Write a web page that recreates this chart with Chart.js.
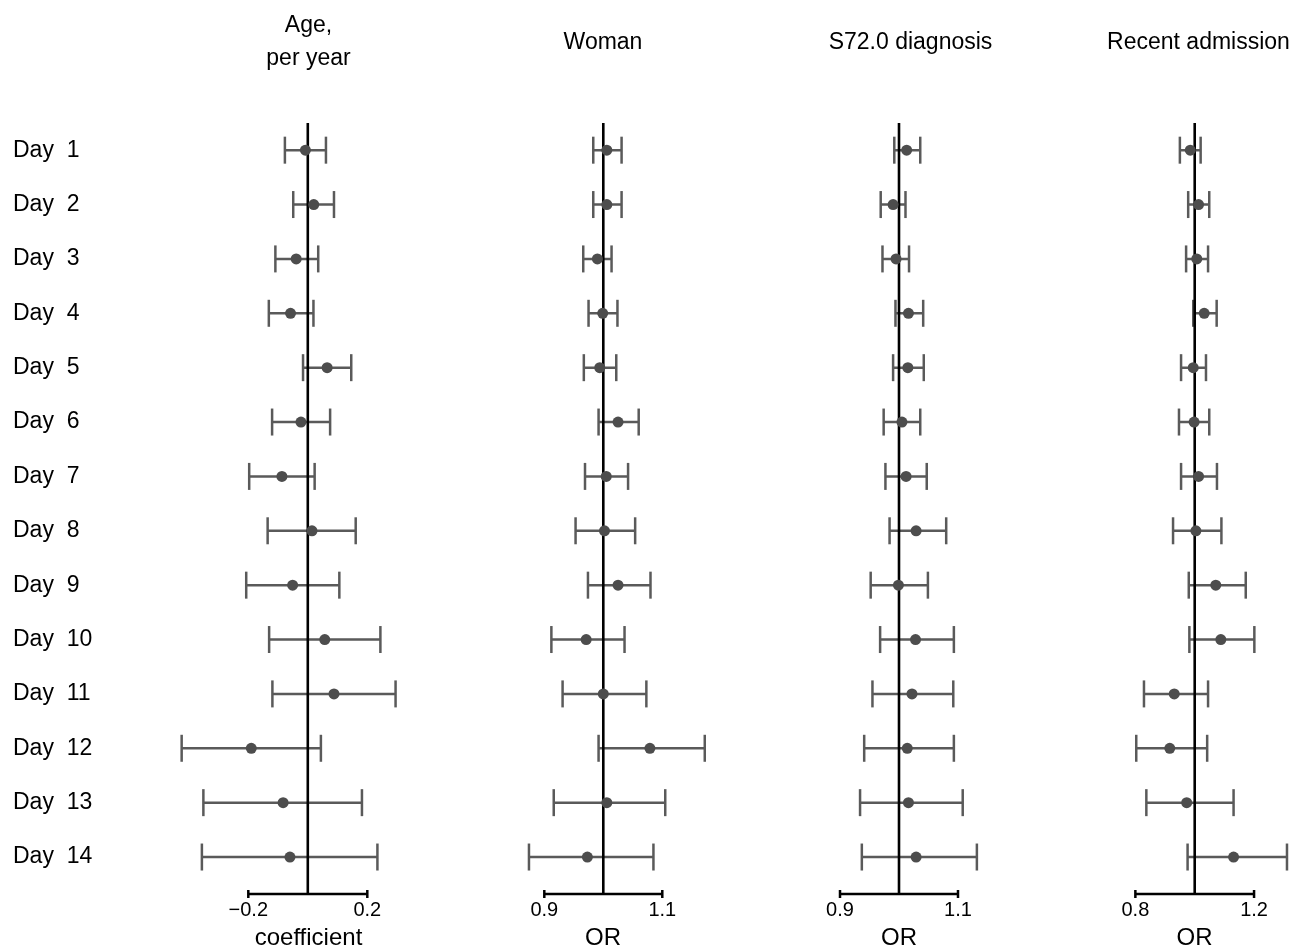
<!DOCTYPE html>
<html lang="en">

<head>
  <meta charset="UTF-8">
  <meta name="viewport" content="width=device-width, initial-scale=1.0">
  <script src="https://cdn.jsdelivr.net/npm/chart.js@4.4.1/dist/chart.umd.min.js"></script>
  <title>Forest plot per day</title>
  <style>
    body { margin: 0; background: #fff; }
    #wrap { position: relative; width: 1307px; height: 950px; }
    #wrap canvas { position: absolute; top: 0; }
  </style>
</head>

<body>
  <div id="wrap">
    <canvas id="c0"></canvas>
    <canvas id="c1"></canvas>
    <canvas id="c2"></canvas>
    <canvas id="c3"></canvas>
  </div>

  <script>
    // rows
    const days = ['Day  1', 'Day  2', 'Day  3', 'Day  4', 'Day  5', 'Day  6', 'Day  7',
      'Day  8', 'Day  9', 'Day  10', 'Day  11', 'Day  12', 'Day  13', 'Day  14'];

    const panelTitles = [['Age,', 'per year'], 'Woman', 'S72.0 diagnosis', 'Recent admission'];
    const axisTitles = ['coefficient', 'OR', 'OR', 'OR'];
    const refValues = [0, 1, 1, 1];
    const tickValues = [[-0.2, 0.2], [0.9, 1.1], [0.9, 1.1], [0.8, 1.2]];

    // Age, per year (coefficient)
    const ageEst = [-0.008, 0.020, -0.039, -0.058, 0.065, -0.023, -0.087, 0.014, -0.051, 0.057, 0.088, -0.190, -0.083, -0.060];
    const ageLo = [-0.077, -0.049, -0.109, -0.131, -0.016, -0.120, -0.197, -0.135, -0.207, -0.130, -0.119, -0.424, -0.351, -0.356];
    const ageHi = [0.061, 0.088, 0.035, 0.019, 0.146, 0.075, 0.023, 0.161, 0.106, 0.244, 0.295, 0.044, 0.182, 0.234];

    // Woman (OR)
    const womanEst = [1.006, 1.006, 0.990, 0.999, 0.994, 1.025, 1.005, 1.002, 1.025, 0.971, 1.000, 1.079, 1.006, 0.973];
    const womanLo = [0.983, 0.983, 0.966, 0.975, 0.967, 0.992, 0.969, 0.953, 0.974, 0.912, 0.931, 0.992, 0.916, 0.874];
    const womanHi = [1.031, 1.031, 1.014, 1.024, 1.022, 1.060, 1.042, 1.054, 1.080, 1.036, 1.073, 1.172, 1.105, 1.085];

    // S72.0 diagnosis (OR)
    const s720Est = [1.013, 0.990, 0.995, 1.016, 1.015, 1.005, 1.012, 1.029, 0.999, 1.028, 1.022, 1.014, 1.016, 1.029];
    const s720Lo = [0.992, 0.969, 0.972, 0.994, 0.990, 0.974, 0.977, 0.984, 0.952, 0.968, 0.955, 0.941, 0.934, 0.937];
    const s720Hi = [1.036, 1.011, 1.017, 1.041, 1.042, 1.036, 1.047, 1.080, 1.049, 1.093, 1.092, 1.093, 1.108, 1.132];

    // Recent admission (OR)
    const recentEst = [0.985, 1.013, 1.007, 1.032, 0.995, 0.998, 1.013, 1.004, 1.071, 1.088, 0.931, 0.916, 0.973, 1.131];
    const recentLo = [0.950, 0.978, 0.971, 0.995, 0.954, 0.947, 0.954, 0.927, 0.980, 0.982, 0.829, 0.803, 0.837, 0.976];
    const recentHi = [1.020, 1.049, 1.045, 1.074, 1.038, 1.049, 1.075, 1.090, 1.172, 1.201, 1.045, 1.042, 1.131, 1.311];

    const series = [
      { est: ageEst, lo: ageLo, hi: ageHi },
      { est: womanEst, lo: womanLo, hi: womanHi },
      { est: s720Est, lo: s720Lo, hi: s720Hi },
      { est: recentEst, lo: recentLo, hi: recentHi }
    ];

    // where each panel sits on the page
    const panels = [
      { left: 0, width: 444, padLeft: 13, yPos: 'left', yWidth: 160, min: -0.4531, max: 0.4578 },
      { left: 482, width: 242, padLeft: 0, yPos: null, yWidth: 0, min: 0.7944, max: 1.2046 },
      { left: 790, width: 241, padLeft: 0, yPos: 'right', yWidth: 23, min: 0.81525, max: 1.18475 },
      { left: 1097, width: 203, padLeft: 0, yPos: 'right', yWidth: 8, min: 0.6707, max: 1.3279 }
    ];

    const yMin = 0.5;
    const yMax = 14.68;
    const barColor = '#5a5a5a';
    const dotColor = '#4d4d4d';

    Chart.defaults.font.family = "'Liberation Sans', Arial, Helvetica, sans-serif";
    Chart.defaults.color = '#000';

    function fmtTick(v) {
      return v < 0 ? '\u2212' + Math.abs(v) : String(v);
    }

    panels.forEach((p, k) => {
      const s = series[k];
      const canvas = document.getElementById('c' + k);
      canvas.width = p.width;
      canvas.height = 950;
      canvas.style.left = p.left + 'px';

      const ciData = [];
      s.lo.forEach((l, i) => {
        ciData.push({ x: l, y: i + 1 }, { x: s.hi[i], y: i + 1 }, { x: s.hi[i], y: null });
      });
      const dotData = s.est.map((v, i) => ({ x: v, y: i + 1 }));
      const ticks = tickValues[k];
      const isMulti = Array.isArray(panelTitles[k]);

      new Chart(canvas, {
        type: 'scatter',
        data: {
          datasets: [
            {
              // confidence intervals with caps
              data: ciData,
              showLine: true,
              spanGaps: false,
              borderColor: barColor,
              borderWidth: 2.5,
              pointStyle: 'line',
              pointRotation: 90,
              pointRadius: 13.5,
              pointBorderColor: barColor,
              pointBorderWidth: 2.5,
              clip: false,
              order: 3
            },
            {
              // reference line
              data: [{ x: refValues[k], y: yMin }, { x: refValues[k], y: yMax }],
              showLine: true,
              borderColor: '#000',
              borderWidth: 2.6,
              pointRadius: 0,
              clip: false,
              order: 2
            },
            {
              // axis segment between the end ticks
              data: [{ x: ticks[0], y: yMax }, { x: ticks[ticks.length - 1], y: yMax }],
              showLine: true,
              borderColor: '#000',
              borderWidth: 2.5,
              pointStyle: 'line',
              pointRotation: 90,
              pointRadius: 4,
              pointBorderColor: '#000',
              pointBorderWidth: 2.5,
              clip: false,
              order: 2
            },
            {
              // point estimates
              data: dotData,
              pointRadius: 5.5,
              pointBackgroundColor: dotColor,
              pointBorderWidth: 0,
              clip: false,
              order: 1
            }
          ]
        },
        options: {
          responsive: false,
          animation: false,
          events: [],
          layout: { padding: { left: p.padLeft, right: 0, top: 0, bottom: 0 }, autoPadding: false },
          plugins: {
            legend: { display: false },
            tooltip: { enabled: false },
            title: {
              display: true,
              text: panelTitles[k],
              fullSize: k !== 0,
              color: '#000',
              font: { size: 23, weight: 'normal', lineHeight: 1.43 },
              padding: isMulti ? { top: 8.9, bottom: 48.3 } : { top: 26.5, bottom: 63.6 }
            }
          },
          scales: {
            x: {
              type: 'linear',
              position: 'bottom',
              min: p.min,
              max: p.max,
              afterBuildTicks: axis => { axis.ticks = ticks.map(v => ({ value: v })); },
              afterFit: scale => { scale.height = 56; },
              grid: { display: false, drawTicks: false },
              border: { display: false },
              ticks: {
                autoSkip: false,
                maxRotation: 0,
                padding: 6,
                color: '#000',
                font: { size: 20, lineHeight: 1 },
                callback: v => fmtTick(v)
              },
              title: {
                display: true,
                text: axisTitles[k],
                color: '#000',
                font: { size: 24, lineHeight: 1 },
                padding: 0
              }
            },
            y: {
              type: 'linear',
              reverse: true,
              min: yMin,
              max: yMax,
              display: p.yPos !== null,
              position: p.yPos || 'left',
              afterBuildTicks: axis => { axis.ticks = days.map((d, i) => ({ value: i + 1 })); },
              afterFit: scale => { if (p.yPos) scale.width = p.yWidth; },
              grid: { display: false, drawTicks: false },
              border: { display: false },
              ticks: {
                display: k === 0,
                autoSkip: false,
                crossAlign: 'far',
                color: '#000',
                font: { size: 23 },
                callback: v => days[v - 1]
              }
            }
          }
        }
      });
    });
  </script>

</body>

</html>
